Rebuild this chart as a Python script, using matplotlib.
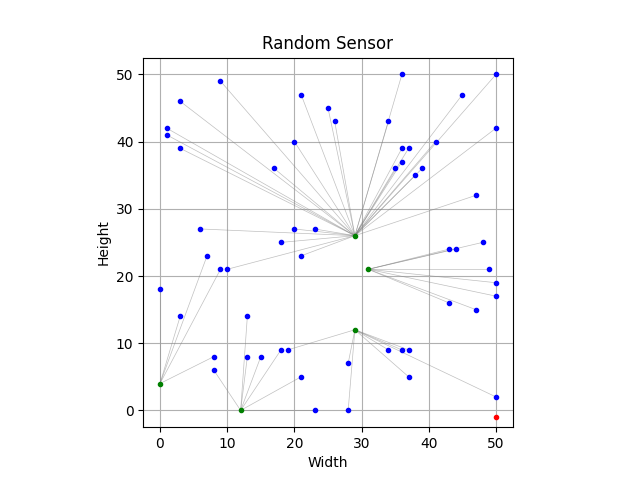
import matplotlib
matplotlib.use("Agg")
import matplotlib.pyplot as plt

hub_x = [29, 31, 29, 0, 12]
hub_y = [26, 21, 12, 4, 0]

sensor_x = [9, 3, 1, 1, 3, 17, 20, 21, 25, 26, 6, 20, 23, 18, 21, 10,
            34, 36, 36, 37, 36, 35, 38, 39, 41, 45, 50, 50, 47,
            43, 44, 48, 49, 50, 50, 43, 47,
            34, 36, 37, 37, 50, 28, 28, 19,
            0, 3, 7, 9, 8,
            13, 13, 15, 18, 21, 23, 8]
sensor_y = [49, 46, 42, 41, 39, 36, 40, 47, 45, 43, 27, 27, 27, 25, 23, 21,
            43, 50, 39, 39, 37, 36, 35, 36, 40, 47, 50, 42, 32,
            24, 24, 25, 21, 19, 17, 16, 15,
            9, 9, 9, 5, 2, 7, 0, 9,
            18, 14, 23, 21, 8,
            14, 8, 8, 9, 5, 0, 6]
sensor_hub = [0] * 29 + [1] * 8 + [2] * 8 + [3] * 5 + [4] * 7

base_x = [50]
base_y = [-1]

fig, ax = plt.subplots(figsize=(6.4, 4.8), dpi=100)
for sx, sy, h in zip(sensor_x, sensor_y, sensor_hub):
    ax.plot([sx, hub_x[h]], [sy, hub_y[h]], color='gray', lw=0.5, alpha=0.5, zorder=2)
ax.plot(sensor_x, sensor_y, '.', color='blue', zorder=3)
ax.plot(hub_x, hub_y, '.', color='green', zorder=4)
ax.plot(base_x, base_y, '.', color='red', zorder=4)

ax.set_xlim(-2.5, 52.5)
ax.set_ylim(-2.5, 52.5)
ax.set_aspect('equal')
ax.set_xticks(range(0, 51, 10))
ax.set_yticks(range(0, 51, 10))
ax.grid(True, zorder=0)
ax.set_axisbelow(True)
ax.set_title('Random Sensor')
ax.set_xlabel('Width')
ax.set_ylabel('Height')
fig.savefig('out.png')
